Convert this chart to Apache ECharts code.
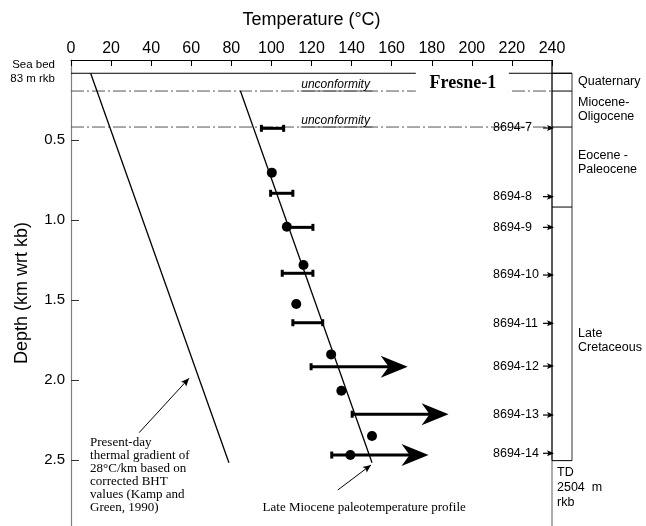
<!DOCTYPE html>
<html><head><meta charset="utf-8">
<script src="https://cdn.jsdelivr.net/npm/echarts@6/dist/echarts.min.js"></script>
<style>html,body{margin:0;padding:0;background:#fff}#c{width:646px;height:526px}</style>
</head><body><div id="c"></div>
<script>
// ---- data ----
const tempTicks = [0,20,40,60,80,100,120,140,160,180,200,220,240];
const depthTicks = [0.5,1.0,1.5,2.0,2.5];
const pointTemp  = [100.2,107.7,116.0,112.4,129.8,134.9,150.2,139.4];
const pointDepth = [0.704,1.042,1.281,1.525,1.840,2.067,2.350,2.469];
const barDepth = [0.427,0.833,1.046,1.333,1.642,1.917,2.214,2.469];
const barMin   = [95.0,99.6,107.0,105.4,110.7,119.8,140.3,130.1];
const barMax   = [106.1,110.7,120.7,120.7,125.6,168.0,188.4,178.4];
const barOpen  = [0,0,0,0,0,1,1,1];
const presentTemp = [9.8,78.8];
const presentDepth = [0.083,2.517];
const miocTemp = [84.5,150.2];
const miocDepth = [0.192,2.517];
const sampleNames = ['8694-7','8694-8','8694-9','8694-10','8694-11','8694-12','8694-13','8694-14'];
const sampleDepth = [0.425,0.854,1.046,1.344,1.646,1.913,2.219,2.458];
const unconfDepth = [0.194,0.419];
const seaBedDepth = 0.083;
const tdDepth = 2.504;
const depthMax = 2.9125;
const stratBounds = [0.083,0.194,0.419,0.919,2.504];
const stratNames = ['Quaternary','Miocene-\nOligocene','Eocene -\nPaleocene','Late\nCretaceous'];
const stratLabelDepth = [0.1375,0.3125,0.644,1.756];

const SANS = "'Liberation Sans', Arial, sans-serif";
const SERIF = "'Liberation Serif', 'Times New Roman', serif";

const chart = echarts.init(document.getElementById('c'), null, {renderer:'canvas'});

function arrowHead(x1,y1,x2,y2,L,W,n){
  const dx=x2-x1, dy=y2-y1, len=Math.hypot(dx,dy), ux=dx/len, uy=dy/len, px=-uy, py=ux;
  return [[x2,y2],[x2-L*ux+W*px,y2-L*uy+W*py],[x2-(L-n)*ux,y2-(L-n)*uy],[x2-L*ux-W*px,y2-L*uy-W*py]];
}

const option = {
  animation:false,
  grid:{left:71,right:94,top:60,bottom:0,containLabel:false},
  xAxis:{type:'value',position:'top',min:0,max:240,interval:20,
    name:'Temperature (°C)',nameLocation:'middle',nameGap:31,
    nameTextStyle:{fontFamily:SANS,fontSize:18,color:'#000'},
    axisLine:{show:true,lineStyle:{color:'#000',width:1}},
    axisTick:{show:true,inside:true,length:6,lineStyle:{color:'#000'}},
    axisLabel:{fontFamily:SANS,fontSize:16,color:'#000',margin:3,
      formatter:v=>tempTicks.indexOf(v)>=0?String(v):''},
    splitLine:{show:false}},
  yAxis:{type:'value',inverse:true,min:0,max:depthMax,
    name:'Depth (km wrt kb)',nameLocation:'middle',nameGap:40,
    nameTextStyle:{fontFamily:SANS,fontSize:18,color:'#000'},
    axisLine:{show:true,lineStyle:{color:'#808080',width:1.2}},
    axisTick:{show:true,inside:true,length:8,customValues:depthTicks,lineStyle:{color:'#333'}},
    axisLabel:{fontFamily:SANS,fontSize:15,color:'#000',margin:6,customValues:depthTicks,
      formatter:v=>v.toFixed(1)},
    splitLine:{show:false}},
  series:[
    {type:'line',data:presentTemp.map((t,i)=>[t,presentDepth[i]]),showSymbol:false,
      lineStyle:{color:'#000',width:1.3},z:3},
    {type:'line',data:miocTemp.map((t,i)=>[t,miocDepth[i]]),showSymbol:false,
      lineStyle:{color:'#000',width:1.3},z:3},
    ...unconfDepth.map(d=>({type:'line',data:[[0,d],[240,d]],showSymbol:false,
      lineStyle:{color:'#555',width:1,type:[13,3,2,3]},z:2})),
    {type:'custom',z:4,
      data:barDepth.map((d,i)=>[barMin[i],barMax[i],d,barOpen[i]]),
      encode:{x:[0,1],y:2},
      renderItem:function(params,api){
        const a=api.coord([api.value(0),api.value(2)]);
        const b=api.coord([api.value(1),api.value(2)]);
        const open=api.value(3)===1;
        const ch=[];
        const st={stroke:'#000',lineWidth:3};
        ch.push({type:'line',shape:{x1:a[0],y1:a[1],x2:open?b[0]-18:b[0],y2:b[1]},style:st});
        ch.push({type:'line',shape:{x1:a[0],y1:a[1]-3.5,x2:a[0],y2:a[1]+3.5},style:{stroke:'#000',lineWidth:3}});
        if(open){
          ch.push({type:'polygon',shape:{points:arrowHead(a[0],a[1],b[0],b[1],27,11,8)},style:{fill:'#000'}});
        } else {
          ch.push({type:'line',shape:{x1:b[0],y1:b[1]-3.5,x2:b[0],y2:b[1]+3.5},style:{stroke:'#000',lineWidth:3}});
        }
        return {type:'group',children:ch};
      }},
    {type:'scatter',data:pointTemp.map((t,i)=>[t,pointDepth[i]]),symbol:'circle',symbolSize:10,
      itemStyle:{color:'#000',opacity:1},z:5}
  ]
};
chart.setOption(option);

function P(t,d){return chart.convertToPixel({gridIndex:0},[t,d]);}
const g=[];
const xR = P(240,0)[0];
const colW = 20;
function line(x1,y1,x2,y2,color,w,z){g.push({type:'line',z:z||50,shape:{x1,y1,x2,y2},style:{stroke:color,lineWidth:w}});}
function text(x,y,s,font,align,va,lh,z){g.push({type:'text',z:z||60,x,y,style:{text:s,font,fill:'#000',align:align||'left',verticalAlign:va||'middle',lineHeight:lh}});}

// sea bed line
const ySea=P(0,seaBedDepth)[1];
line(P(0,0)[0],ySea,xR+colW,ySea,'#000',1);
// right frame
const yTop=P(240,0)[1], yTD=P(240,tdDepth)[1], yBot=P(240,depthMax)[1];
line(xR,yTop,xR,yTD,'#000',1.3);
line(xR,yTD,xR,yBot,'#808080',1.3);
// strat column
line(xR+colW,ySea,xR+colW,yTD,'#333',1);
stratBounds.forEach(d=>{const y=P(240,d)[1]; line(xR,y,xR+colW,y,'#000',1);});
stratNames.forEach((s,i)=>text(xR+colW+6,P(240,stratLabelDepth[i])[1],s,'12.5px '+SANS,'left','middle',14));
text(xR+5,yTD+4,'TD\n2504  m\nrkb','12.5px '+SANS,'left','top',15);
// samples
sampleNames.forEach((s,i)=>{
  const y=P(240,sampleDepth[i])[1];
  text(xR-59,y,s,'12.5px '+SANS,'left','middle');
  line(xR-9,y,xR-3,y,'#000',1.2);
  g.push({type:'polygon',z:55,shape:{points:arrowHead(xR-9,y,xR+2,y,7,3,1.5)},style:{fill:'#000'}});
});
// unconformity labels
unconfDepth.forEach(d=>{
  const p=P(132,d);
  text(p[0],p[1]-6,'unconformity','italic 12px '+SANS,'center','middle');
  line(P(114.5,d)[0],p[1],P(150.5,d)[0],p[1],'#555',1);
});
// Fresne-1
const pf=P(195.5,0); const yU1=P(0,unconfDepth[0])[1];
const yc=(ySea+yU1)/2;
g.push({type:'rect',z:58,shape:{x:pf[0]-47,y:yc-12,width:93,height:24},style:{fill:'#fff'}});
text(pf[0],yc+1,'Fresne-1','bold 18px '+SERIF,'center','middle',null,61);
// Sea bed label
text(55,P(0,0)[1]+5,'Sea bed','11.5px '+SANS,'right','middle');
text(55,P(0,0)[1]+19,'83 m rkb','11.5px '+SANS,'right','middle');
// present-day annotation
const a1=P(34.0,2.329), a2=P(58.9,1.989);
line(a1[0],a1[1],a2[0],a2[1],'#000',1);
g.push({type:'polygon',z:55,shape:{points:arrowHead(a1[0],a1[1],a2[0],a2[1],8,3.5,1.5)},style:{fill:'#000'}});
const pt=P(9.5,2.392);
text(pt[0],pt[1]-6.5,'Present-day\nthermal gradient of\n28°C/km based on\ncorrected BHT\nvalues (Kamp and\nGreen, 1990)','13px '+SERIF,'left','top',13);
// late miocene annotation
const b1=P(133.1,2.6875), b2=P(149.7,2.531);
line(b1[0],b1[1],b2[0],b2[1],'#000',1);
g.push({type:'polygon',z:55,shape:{points:arrowHead(b1[0],b1[1],b2[0],b2[1],8,3.5,1.5)},style:{fill:'#000'}});
const pm=P(95.6,2.8);
text(pm[0],pm[1],'Late Miocene paleotemperature profile','13px '+SERIF,'left','middle');

chart.setOption({graphic:{elements:g}});
</script></body></html>
